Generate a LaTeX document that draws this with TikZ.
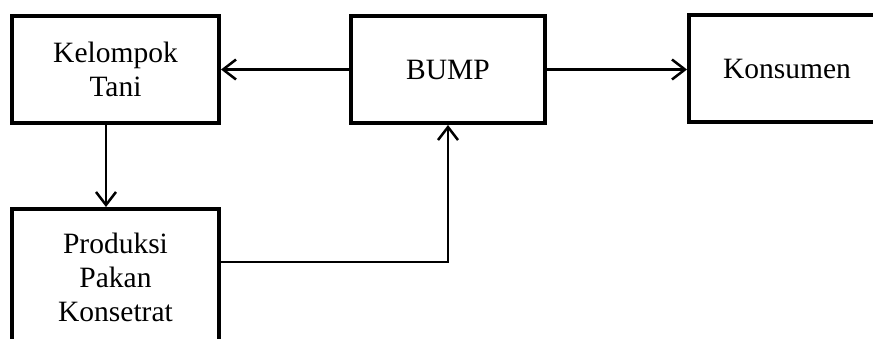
\documentclass[tikz,border=0pt]{standalone}
\usepackage{fontspec}
\setmainfont{Liberation Serif}
\usetikzlibrary{arrows.meta}
\begin{document}
\begin{tikzpicture}[x=1pt,y=-1pt,
  box/.style={draw=black,line width=4pt,rectangle,inner sep=0pt,align=center,
    font=\fontsize{29.5}{34}\selectfont},
  arr/.style={line width=2.5pt,-{Straight Barb[length=13pt,width=20pt]}},
  ln/.style={line width=2.5pt}]
\useasboundingbox (0,0) rectangle (873,338);
\clip (0,0) rectangle (873,338);
\node[box,minimum width=207pt,minimum height=107pt] (kt) at (115.5,69.5) {Kelompok\\Tani};
\node[box,minimum width=194pt,minimum height=107pt] (bump) at (448,69.5) {\raisebox{-2.5pt}{BUMP}};
\node[box,minimum width=196pt,minimum height=107pt] (kons) at (787,68.5) {\raisebox{-1.5pt}{Konsumen}};
\node[box,minimum width=207pt,minimum height=136pt] (prod) at (115.5,277) {Produksi\\Pakan\\Konsetrat};
\draw[arr] (bump.west) -- (bump.west -| kt.east);
\draw[arr] (bump.east) -- (bump.east -| kons.west);
\draw[arr] ([xshift=-9.5pt]kt.south) -- ([xshift=-9.5pt]kt.south |- prod.north);
\draw[arr] ([yshift=15pt]prod.east) -| (bump.south);
\end{tikzpicture}
\end{document}
